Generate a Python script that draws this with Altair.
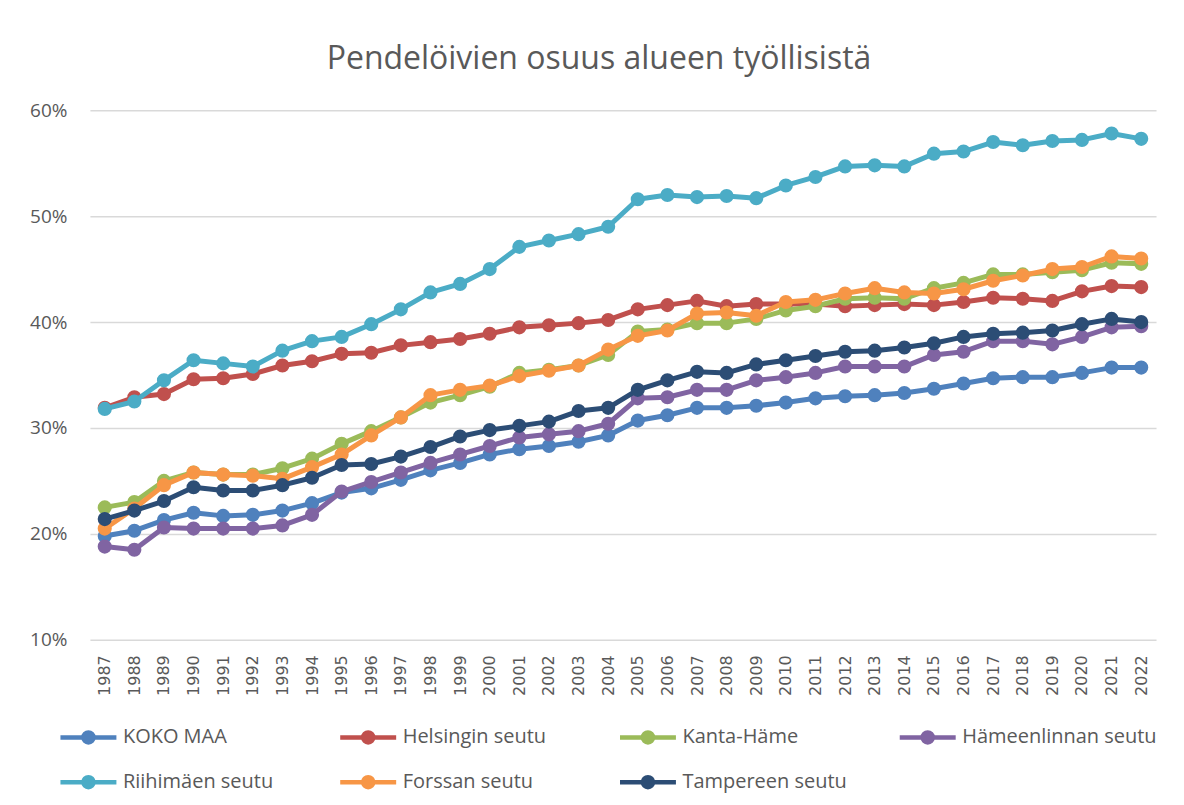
import altair as alt
import pandas as pd

years = list(range(1987, 2023))

series_names = ["KOKO MAA", "Helsingin seutu", "Kanta-Häme", "Hämeenlinnan seutu",
                "Riihimäen seutu", "Forssan seutu", "Tampereen seutu"]

koko_maa = [19.8, 20.3, 21.3, 22.0, 21.7, 21.8, 22.2, 22.9, 23.9, 24.3, 25.1, 26.0,
            26.7, 27.5, 28.0, 28.3, 28.7, 29.3, 30.7, 31.2, 31.9, 31.9, 32.1, 32.4,
            32.8, 33.0, 33.1, 33.3, 33.7, 34.2, 34.7, 34.8, 34.8, 35.2, 35.7, 35.7]
helsinki = [31.9, 32.9, 33.2, 34.6, 34.7, 35.1, 35.9, 36.3, 37.0, 37.1, 37.8, 38.1,
            38.4, 38.9, 39.5, 39.7, 39.9, 40.2, 41.2, 41.6, 42.0, 41.5, 41.7, 41.7,
            41.7, 41.5, 41.6, 41.7, 41.6, 41.9, 42.3, 42.2, 42.0, 42.9, 43.4, 43.3]
kanta_hame = [22.5, 23.0, 25.0, 25.8, 25.6, 25.6, 26.2, 27.1, 28.5, 29.7, 31.0, 32.4,
              33.1, 33.9, 35.2, 35.5, 35.9, 36.9, 39.1, 39.3, 39.9, 39.9, 40.3, 41.1,
              41.5, 42.2, 42.3, 42.2, 43.2, 43.7, 44.5, 44.5, 44.7, 44.9, 45.6, 45.5]
hameenlinna = [18.8, 18.5, 20.6, 20.5, 20.5, 20.5, 20.8, 21.8, 24.0, 24.9, 25.8, 26.7,
               27.5, 28.3, 29.1, 29.4, 29.7, 30.4, 32.8, 32.9, 33.6, 33.6, 34.5, 34.8,
               35.2, 35.8, 35.8, 35.8, 36.9, 37.2, 38.2, 38.2, 37.9, 38.6, 39.5, 39.6]
riihimaki = [31.8, 32.5, 34.5, 36.4, 36.1, 35.8, 37.3, 38.2, 38.6, 39.8, 41.2, 42.8,
             43.6, 45.0, 47.1, 47.7, 48.3, 49.0, 51.6, 52.0, 51.8, 51.9, 51.7, 52.9,
             53.7, 54.7, 54.8, 54.7, 55.9, 56.1, 57.0, 56.7, 57.1, 57.2, 57.8, 57.3]
forssa = [20.5, 22.4, 24.6, 25.8, 25.6, 25.5, 25.2, 26.3, 27.5, 29.3, 31.0, 33.1,
          33.6, 34.0, 34.9, 35.4, 35.9, 37.4, 38.7, 39.2, 40.8, 40.9, 40.6, 41.9,
          42.1, 42.7, 43.2, 42.8, 42.7, 43.1, 43.9, 44.4, 45.0, 45.2, 46.2, 46.0]
tampere = [21.4, 22.2, 23.1, 24.4, 24.1, 24.1, 24.6, 25.3, 26.5, 26.6, 27.3, 28.2,
           29.2, 29.8, 30.2, 30.6, 31.6, 31.9, 33.6, 34.5, 35.3, 35.2, 36.0, 36.4,
           36.8, 37.2, 37.3, 37.6, 38.0, 38.6, 38.9, 39.0, 39.2, 39.8, 40.3, 40.0]

series_values = [koko_maa, helsinki, kanta_hame, hameenlinna, riihimaki, forssa, tampere]
series_colors = ["#4f81bd", "#c0504d", "#9bbb59", "#8064a2", "#4bacc6", "#f79646", "#2c4d75"]

y_ticks = [10, 20, 30, 40, 50, 60]

rows = []
for name, vals in zip(series_names, series_values):
    for yr, v in zip(years, vals):
        rows.append({"Vuosi": str(yr), "Alue": name, "Osuus": v})
df = pd.DataFrame(rows)

GREY = "#595959"
symbol_path = ("M-1,0L1,0"
               "M-0.18,0A0.18,0.18,0,1,0,0.18,0A0.18,0.18,0,1,0,-0.18,0"
               "M-0.06,0A0.06,0.06,0,1,0,0.06,0A0.06,0.06,0,1,0,-0.06,0")

color_scale = alt.Scale(domain=series_names, range=series_colors)
legend = alt.Legend(
    title=None, orient="none", legendX=-32, legendY=597, direction="horizontal",
    columns=4, gridAlign="all", columnPadding=13, rowPadding=0,
    symbolType=symbol_path, symbolSize=3136, symbolStrokeWidth=4.5,
    labelFont="Open Sans", labelFontSize=20, labelColor=GREY, labelOffset=4,
    padding=0, labelLimit=400,
)

layers = []
for name in series_names:
    layers.append(
        alt.Chart(df)
        .transform_filter(alt.datum.Alue == name)
        .mark_line(strokeWidth=5, strokeCap="round", strokeJoin="round",
                   point=alt.OverlayMarkDef(filled=True, size=200, opacity=1))
        .encode(
            x=alt.X("Vuosi:O", title=None,
                    scale=alt.Scale(type="point", padding=0.5),
                    axis=alt.Axis(labelAngle=-90, labelFont="DejaVu Sans", labelFontSize=16,
                                  labelColor=GREY, labelPadding=15, ticks=False, domain=False,
                                  grid=False)),
            y=alt.Y("Osuus:Q", title=None,
                    scale=alt.Scale(domain=[10, 60], nice=False, zero=False),
                    axis=alt.Axis(values=y_ticks, labelExpr="datum.value + '%'",
                                  labelFont="Open Sans", labelFontSize=19, labelColor=GREY,
                                  labelPadding=23, ticks=False, domain=False,
                                  grid=True, gridColor="#d9d9d9", gridWidth=1.5)),
            color=alt.Color("Alue:N", scale=color_scale, legend=legend),
        )
    )

chart = (
    alt.layer(*layers)
    .properties(
        width=1067, height=530,
        title=alt.TitleParams("Pendelöivien osuus alueen työllisistä", font="Open Sans",
                              fontSize=32, fontWeight="normal", color=GREY,
                              anchor="middle", dx=-24, offset=25),
        autosize=alt.AutoSizeParams(type="none"),
        padding={"left": 82, "top": 102, "right": 20, "bottom": 157},
    )
    .configure_view(stroke=None)
)

chart.save("out.html", embed_options={"renderer": "svg", "actions": False})
